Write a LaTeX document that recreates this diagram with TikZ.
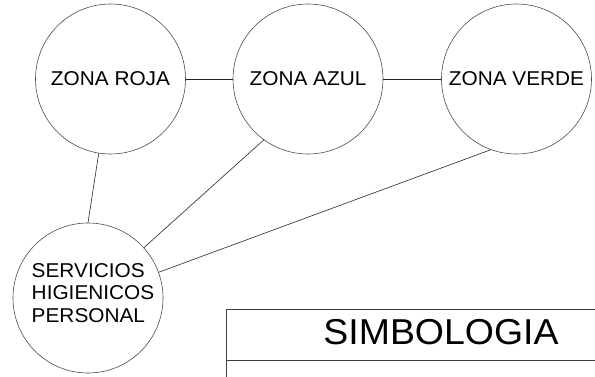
\documentclass[tikz,border=0pt]{standalone}
\usepackage{fontspec}
\setmainfont[FakeStretch=1.04]{Liberation Sans}
\begin{document}
\begin{tikzpicture}[x=1pt,y=-1pt,
  zone/.style={circle,draw=black!70,line width=0.6pt,minimum size=150pt,inner sep=0pt,
    font=\fontsize{20}{24}\selectfont},
  link/.style={draw=black!85,line width=0.6pt},
  tableline/.style={draw=black!75,line width=0.7pt}]
\useasboundingbox (0,0) rectangle (595,377);

% zones
\node[zone] (roja)  at (110.5,79) {ZONA ROJA};
\node[zone] (azul)  at (308,79)   {ZONA AZUL};
\node[zone] (verde) at (516.5,79) {ZONA VERDE};
\node[zone] (serv)  at (88,298)   {};
\node[align=left,inner sep=0pt,font=\fontsize{20}{22.5}\selectfont] (servtxt) at (93,293)
  {SERVICIOS\\HIGIENICOS\\PERSONAL};

% connections
\draw[link] (roja.east) -- (azul.west);
\draw[link] (azul.east) -- (verde.west);
\draw[link] (roja.261) -- (serv.90);
\draw[link] (azul.234) -- (serv.42);
\draw[link] (verde.250) -- (serv.20);

% legend table
\coordinate (tl) at (226,309);
\coordinate (tb) at (226,377);
\coordinate (tr) at (595,309);
\coordinate (ml) at (226,360);
\coordinate (mr) at (595,360);
\draw[tableline] (tb) -- (tl) -- (tr);
\draw[tableline] (ml) -- (mr);
\node[font=\fontsize{36}{40}\selectfont,inner sep=0pt] (simb) at (441,332) {SIMBOLOGIA};
\end{tikzpicture}
\end{document}
